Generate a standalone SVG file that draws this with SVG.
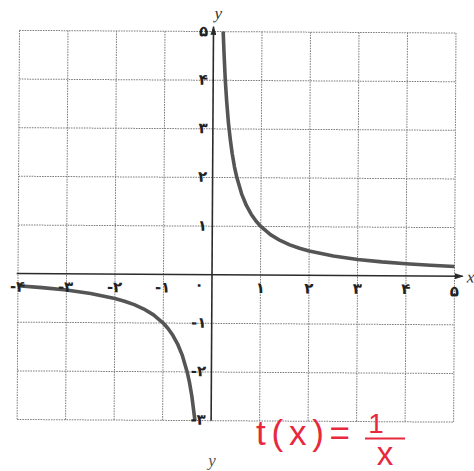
<svg xmlns="http://www.w3.org/2000/svg" width="474" height="471" viewBox="0 0 474 471">
<style>
.grid{stroke:#7d7d7d;stroke-width:1;stroke-dasharray:1.6 1;fill:none}
.axis{stroke:#2b2b2b;stroke-width:1.6;fill:none}
.curve{stroke:#555;stroke-width:3.6;fill:none;stroke-linejoin:round;stroke-linecap:butt}
.num{font-family:"DejaVu Sans","Noto Sans",sans-serif;font-size:15px;font-weight:bold;fill:#222}
.var{font-family:"Liberation Serif",serif;font-style:italic;font-size:17px;fill:#333}
.red{font-family:"Liberation Sans",sans-serif;fill:#e8293d}
</style>
<defs>
<marker id="arr" markerWidth="9" markerHeight="6" refX="8" refY="3" orient="auto" markerUnits="userSpaceOnUse">
<path d="M0,0 L9,3 L0,6 Z" fill="#2b2b2b"/>
</marker>
</defs>
<rect width="474" height="471" fill="#fff"/>
<g transform="rotate(0.35 236 226)">
<g id="grid">
<path class="grid" d="M18.3,31.7V420.8M66.8,31.7V420.8M115.3,31.7V420.8M163.8,31.7V420.8M260.8,31.7V420.8M309.3,31.7V420.8M357.8,31.7V420.8M406.3,31.7V420.8M454.8,31.7V420.8"/>
<path class="grid" d="M18.3,31.7H454.8M18.3,80.4H454.8M18.3,129H454.8M18.3,177.6H454.8M18.3,226.3H454.8M18.3,323.5H454.8M18.3,372.2H454.8M18.3,420.8H454.8"/>
</g>
<g id="axes">
<line class="axis" x1="17" y1="274.9" x2="463" y2="274.9" marker-end="url(#arr)"/>
<line class="axis" x1="212.3" y1="421" x2="212.3" y2="27" marker-end="url(#arr)"/>
</g>
<g id="curves">
<polyline class="curve" points="222,31.7 223,53.8 224.4,80.3 225.9,101.2 227.8,122.9 229.8,139.8 231.7,153.3 234.1,166.8 236.55,177.6 241.4,193.8 246.25,205.4 251.1,214.1 255.95,220.9 260.8,226.3 270.5,234.4 280.2,240.2 289.9,244.5 299.6,247.9 309.3,250.6 333.55,255.4 357.8,258.7 382.05,261 406.3,262.7 430.55,264.1 454.8,265.2"/>
<polyline class="curve" points="18.3,287.1 42.55,288.8 66.8,291.1 91.05,294.4 115.3,299.2 125,301.9 134.7,305.3 144.4,309.6 154.1,315.4 163.8,323.5 168.65,328.9 173.5,335.7 178.35,344.4 183.2,356 188.05,372.2 190.5,383 192.9,396.5 196.1,420.8"/>
</g>
<g id="y-labels" class="num" text-anchor="end">
<text x="207" y="36.5">۵</text>
<text x="207" y="85">۴</text>
<text x="207" y="133.5">۳</text>
<text x="207" y="182">۲</text>
<text x="207" y="231">۱</text>
<text x="207" y="328">-۱</text>
<text x="207" y="376.5">-۲</text>
<text x="207" y="425">-۳</text>
</g>
<g id="x-labels" class="num" text-anchor="middle">
<text x="18" y="293">-۴</text>
<text x="66" y="293">-۳</text>
<text x="115" y="293">-۲</text>
<text x="163" y="293">-۱</text>
<text x="199.5" y="290">۰</text>
<text x="260.8" y="293">۱</text>
<text x="309.3" y="293">۲</text>
<text x="357.8" y="293">۳</text>
<text x="406.3" y="293">۴</text>
<text x="454.8" y="295">۵</text>
</g>
<text class="var" x="217" y="19" text-anchor="middle">y</text>
<text class="var" x="467" y="281">x</text>
</g>
<text class="var" x="212" y="466" text-anchor="middle" style="fill:#555">y</text>
<g id="formula">
<text class="red" x="256" y="445" font-size="35" textLength="94" lengthAdjust="spacing">t(x)=</text>
<text class="red" x="376" y="433" font-size="28" text-anchor="middle">1</text>
<line x1="365" y1="438.5" x2="405" y2="438.5" stroke="#e8293d" stroke-width="2"/>
<text class="red" x="385" y="465" font-size="33" text-anchor="middle">x</text>
</g>
</svg>
